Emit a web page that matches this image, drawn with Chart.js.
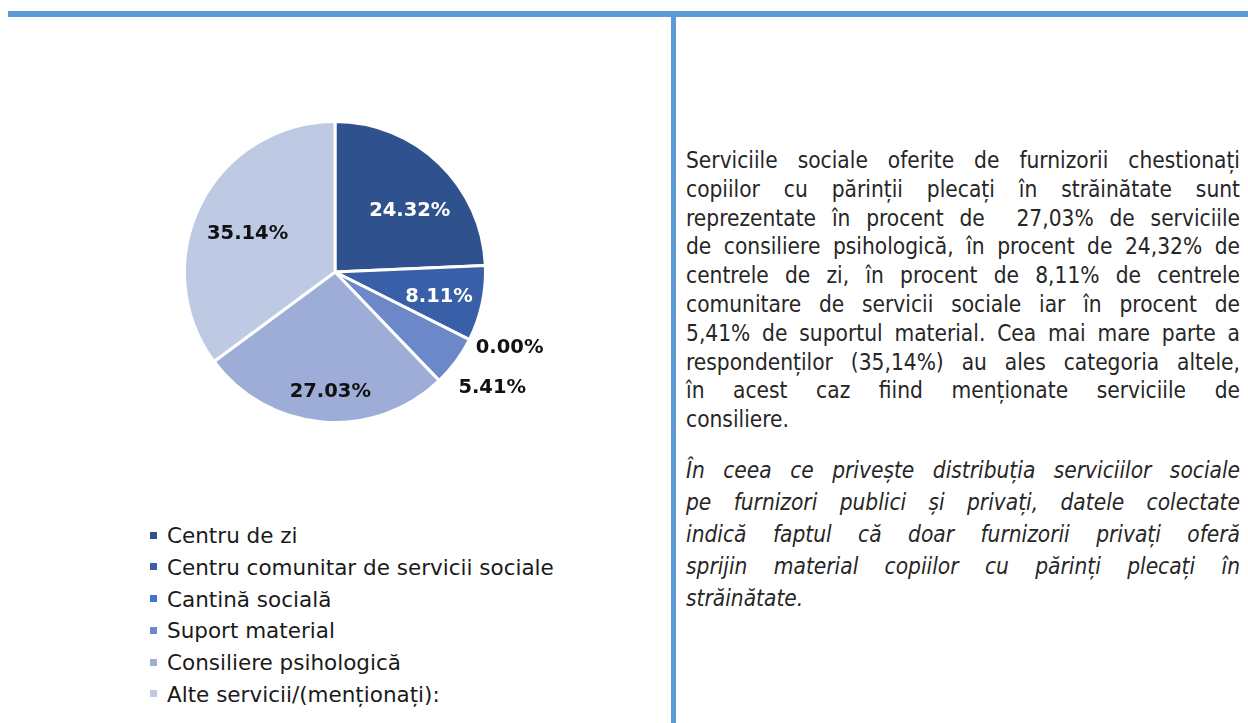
<!DOCTYPE html>
<html>
<head>
<meta charset="utf-8">
<script src="https://cdn.jsdelivr.net/npm/chart.js@4.4.0/dist/chart.umd.min.js"></script>
<style>
  html, body { margin: 0; padding: 0; background: #fff; }
  body { width: 1248px; height: 723px; position: relative; overflow: hidden; font-family: "DejaVu Sans", sans-serif; }
  .linieSus { position: absolute; left: 8px; top: 11px; width: 1240px; height: 6px; background: #5b9bd5; }
  .linieMijloc { position: absolute; left: 671px; top: 17px; width: 5px; height: 706px; background: #5b9bd5; }
  #zonaGrafic { position: absolute; left: 105px; top: 72px; width: 460px; height: 400px; }
  #legenda { position: absolute; left: 150px; top: 520px; font-size: 21.5px; color: #1a1a1a; }
  #legenda div { height: 31.8px; line-height: 31.8px; white-space: nowrap; }
  #legenda span.patrat { display: inline-block; width: 7px; height: 7px; margin-right: 10px; vertical-align: middle; position: relative; top: -2px; }
  .text { position: absolute; left: 686px; width: 554px; font-family: "DejaVu Sans Condensed", "DejaVu Sans", sans-serif; font-size: 22.5px; color: #262626; }
  .text div { white-space: nowrap; text-align: justify; text-align-last: justify; }
  .text div.ultim { text-align-last: left; }
  #p1 { top: 146px; line-height: 28.8px; }
  #p2 { top: 454px; line-height: 32px; font-style: italic; }
</style>
</head>
<body>
<div class="linieSus"></div>
<div class="linieMijloc"></div>
<div id="zonaGrafic"><canvas id="graficServicii"></canvas></div>
<div id="legenda"></div>
<div class="text" id="p1">
  <div>Serviciile sociale oferite de furnizorii chestionați</div>
  <div>copiilor cu părinții plecați în străinătate sunt</div>
  <div>reprezentate în procent de&nbsp; 27,03% de serviciile</div>
  <div>de consiliere psihologică, în procent de 24,32% de</div>
  <div>centrele de zi, în procent de 8,11% de centrele</div>
  <div>comunitare de servicii sociale iar în procent de</div>
  <div>5,41% de suportul material. Cea mai mare parte a</div>
  <div>respondenților (35,14%) au ales categoria altele,</div>
  <div>în acest caz fiind menționate serviciile de</div>
  <div class="ultim">consiliere.</div>
</div>
<div class="text" id="p2">
  <div>În ceea ce privește distribuția serviciilor sociale</div>
  <div>pe furnizori publici și privați, datele colectate</div>
  <div>indică faptul că doar furnizorii privați oferă</div>
  <div>sprijin material copiilor cu părinți plecați în</div>
  <div class="ultim">străinătate.</div>
</div>
<script>
// categorii si valori (procente)
const categorii = ['Centru de zi', 'Centru comunitar de servicii sociale', 'Cantină socială', 'Suport material', 'Consiliere psihologică', 'Alte servicii/(menționați):'];
const procente = [24.32, 8.11, 0.00, 5.41, 27.03, 35.14];
const culori = ['#2f528f', '#3a5fa9', '#4472c4', '#6d88c9', '#9dadd8', '#bec9e4'];
const culoriEticheta = ['#ffffff', '#ffffff', '#111111', '#111111', '#111111', '#111111'];

// eticheta procent: in interior pentru felii mari, in afara pentru cele mici
const eticheteProcent = {
  id: 'eticheteProcent',
  afterDatasetsDraw(chart) {
    const ctx = chart.ctx;
    const meta = chart.getDatasetMeta(0);
    const pozitii = [];
    meta.data.forEach((arc, i) => {
      const p = arc.getProps(['x', 'y', 'startAngle', 'endAngle', 'outerRadius'], true);
      const unghi = (p.startAngle + p.endAngle) / 2;
      const mic = procente[i] < 6;
      if (mic) {
        const r = p.outerRadius + 45;
        pozitii.push({ i, mic, x: p.x + Math.cos(unghi) * r, y: p.y + Math.sin(unghi) * r });
      } else {
        const r = p.outerRadius * 0.68;
        // putin mai jos pentru feliile orientate vertical
        const jos = 18 * Math.abs(Math.sin(unghi));
        pozitii.push({ i, mic, x: p.x + Math.cos(unghi) * r + 4, y: p.y + Math.sin(unghi) * r + jos });
      }
    });
    // etichetele mici de afara nu trebuie sa se suprapuna
    const afara = pozitii.filter(e => e.mic);
    for (let k = afara.length - 2; k >= 0; k--) {
      if (afara[k + 1].y - afara[k].y < 40) afara[k].y = afara[k + 1].y - 40;
    }
    ctx.save();
    ctx.font = 'bold 19.5px "DejaVu Sans", sans-serif';
    ctx.textAlign = 'center';
    ctx.textBaseline = 'middle';
    pozitii.forEach(e => {
      ctx.fillStyle = e.mic ? '#111111' : culoriEticheta[e.i];
      ctx.fillText(procente[e.i].toFixed(2) + '%', e.x, e.y);
    });
    ctx.restore();
  }
};

const chartInstance = new Chart(document.getElementById('graficServicii').getContext('2d'), {
  type: 'pie',
  data: {
    labels: categorii,
    datasets: [{
      data: procente,
      backgroundColor: culori,
      borderColor: '#ffffff',
      borderWidth: 3
    }]
  },
  options: {
    responsive: true,
    maintainAspectRatio: false,
    animation: false,
    layout: { padding: { left: 78, right: 78, top: 48, bottom: 48 } },
    plugins: {
      legend: { display: false },
      tooltip: { enabled: false }
    }
  },
  plugins: [eticheteProcent]
});

// legenda HTML din aceleasi liste
const legendaDiv = document.getElementById('legenda');
categorii.forEach((cat, i) => {
  const rand = document.createElement('div');
  rand.innerHTML = `<span class="patrat" style="background:${culori[i]}"></span>${cat}`;
  legendaDiv.appendChild(rand);
});
</script>
</body>
</html>
